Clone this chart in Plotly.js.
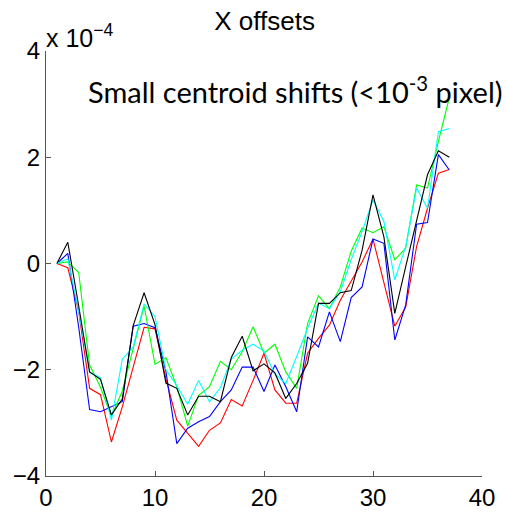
<!DOCTYPE html>
<html>
<head>
<meta charset="utf-8">
<script src="https://cdn.plot.ly/plotly-3.0.1.min.js"></script>
<style>html,body{margin:0;padding:0;background:#fff;}#chart{width:506px;height:512px;}</style>
</head>
<body>
<div id="chart"></div>
<script>
// Frame index (x) and X offsets in units of 1e-4 pixel
const frames = [1,2,3,4,5,6,7,8,9,10,11,12,13,14,15,16,17,18,19,20,21,22,23,24,25,26,27,28,29,30,31,32,33,34,35,36,37];
const redSeries   = [0,-0.08,-0.9,-2.35,-2.47,-3.36,-2.7,-1.95,-1.2,-1.23,-2.17,-2.95,-3.2,-3.44,-3.14,-3.0,-2.56,-2.68,-2.2,-1.69,-2.38,-2.63,-2.63,-1.69,-1.41,-1.16,-0.69,-0.34,0.03,0.46,-0.36,-1.18,-0.82,0.32,1.04,1.7,1.77];
const blueSeries  = [0,0.19,-1.2,-2.75,-2.79,-2.7,-2.6,-1.18,-1.13,-1.21,-2.03,-3.39,-3.1,-2.98,-2.88,-2.6,-2.38,-1.95,-1.95,-2.41,-1.91,-2.32,-2.79,-1.38,-1.57,-0.91,-1.47,-0.64,-0.44,0.46,0.38,-1.44,-0.78,0.74,0.77,2.05,1.76];
const greenSeries = [0,0.03,-0.17,-1.91,-2.33,-2.88,-2.4,-1.6,-0.8,-1.9,-1.77,-2.32,-3.06,-2.48,-2.32,-1.84,-2.0,-1.66,-1.19,-1.69,-1.52,-2.04,-2.35,-1.13,-0.61,-0.85,-0.44,0.23,0.67,0.58,0.69,0.07,0.29,1.48,1.42,2.3,3.12];
const cyanSeries  = [0,0.09,-0.9,-2.05,-2.15,-2.95,-1.8,-1.57,-0.76,-1.0,-2.0,-2.3,-2.65,-2.2,-2.6,-2.34,-1.8,-1.63,-1.52,-1.65,-2.08,-2.26,-1.75,-1.22,-0.75,-0.85,-0.53,0.07,0.6,1.2,0.79,-0.31,0.32,1.42,1.04,2.48,2.54];
const blackSeries = [0,0.40,-0.8,-2.04,-2.18,-2.85,-2.55,-1.17,-0.55,-1.15,-2.25,-2.35,-2.85,-2.5,-2.5,-2.6,-1.77,-1.37,-2.02,-1.89,-2.06,-2.54,-2.26,-1.88,-0.75,-0.75,-0.55,-0.51,0.25,1.29,0.5,-0.94,-0.06,0.82,1.67,2.12,2.0];

const xTicks = [0,10,20,30,40];
const xTickLabels = ['0','10','20','30','40'];
const yTicks = [-4,-2,0,2,4];
const yTickLabels = ['\u22124','\u22122','0','2','4'];

const seriesList = [
  {y: redSeries,   color: '#ff0000'},
  {y: blueSeries,  color: '#0000ff'},
  {y: greenSeries, color: '#00ff00'},
  {y: cyanSeries,  color: '#00ffff'},
  {y: blackSeries, color: '#000000'}
];

const traces = seriesList.map(s => ({
  x: frames, y: s.y, type: 'scatter', mode: 'lines',
  line: {color: s.color, width: 1.1}, hoverinfo: 'skip'
}));

const axisFont = {family: 'Liberation Sans, Arial, sans-serif', size: 24, color: '#000'};

const layout = {
  width: 506, height: 512,
  margin: {l: 46, r: 24, t: 51, b: 36},
  paper_bgcolor: '#fff', plot_bgcolor: '#fff',
  showlegend: false,
  title: {text: 'X offsets', font: {family: 'Liberation Sans, Arial, sans-serif', size: 26, color: '#000'},
          x: 0.523, xanchor: 'center', y: 0.96, yanchor: 'middle'},
  xaxis: {
    range: [0, 40], tickvals: xTicks, ticktext: xTickLabels,
    showline: true, linecolor: '#555', linewidth: 1, mirror: false,
    ticks: 'inside', ticklen: 5, tickcolor: '#555', tickwidth: 1,
    showgrid: false, zeroline: false, tickfont: axisFont
  },
  yaxis: {
    range: [-4, 4], tickvals: yTicks, ticktext: yTickLabels,
    showline: true, linecolor: '#555', linewidth: 1, mirror: false,
    ticks: 'inside', ticklen: 5, tickcolor: '#555', tickwidth: 1,
    showgrid: false, zeroline: false, tickfont: axisFont
  },
  annotations: [
    {text: 'x 10<sup>\u22124</sup>', xref: 'paper', yref: 'paper', x: -0.005, y: 1.0,
     xanchor: 'left', yanchor: 'bottom', showarrow: false, yshift: -3,
     font: {family: 'Liberation Sans, Arial, sans-serif', size: 25, color: '#000'}},
    {text: 'Small centroid shifts (&lt;10<sup>-3</sup> pixel)', xref: 'paper', yref: 'paper',
     x: 0.092, y: 0.909, xanchor: 'left', yanchor: 'middle', showarrow: false,
     font: {family: 'Lato, Open Sans, sans-serif', size: 29, color: '#000'}}
  ]
};

Plotly.newPlot('chart', traces, layout, {displayModeBar: false, staticPlot: true});
</script>
</body>
</html>
